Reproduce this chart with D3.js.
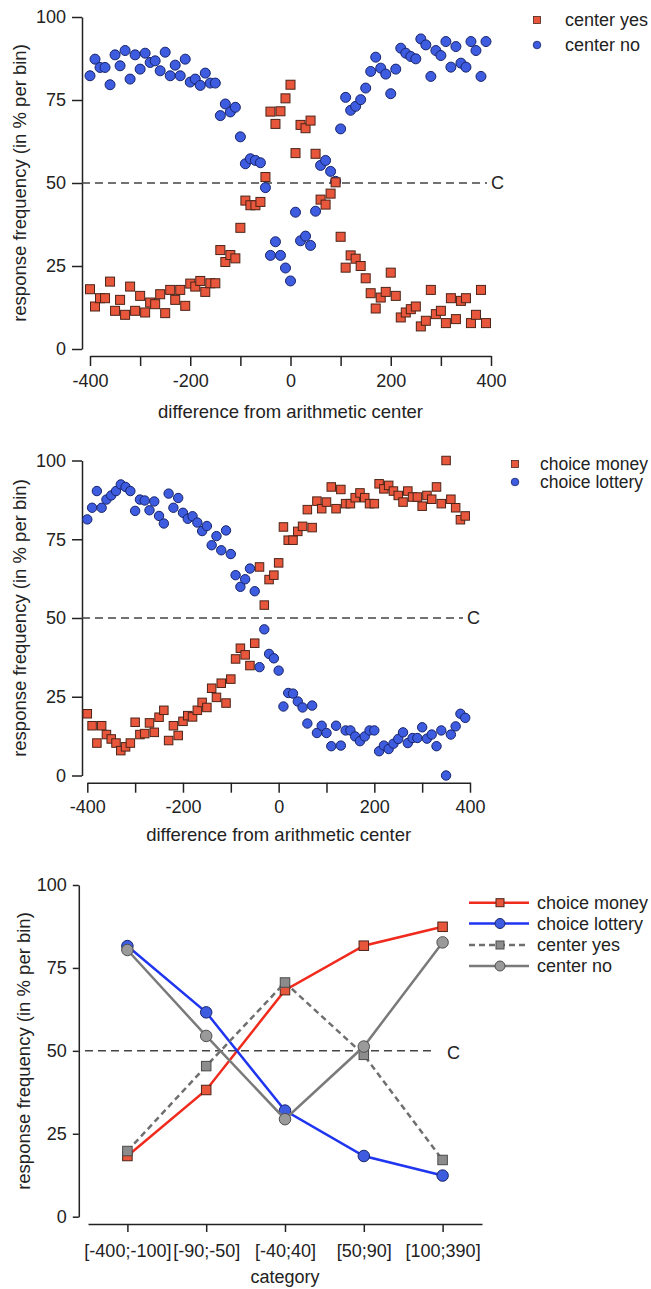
<!DOCTYPE html>
<html>
<head>
<meta charset="utf-8">
<script src="https://cdn.jsdelivr.net/npm/d3@7"></script>
<style>
  body { margin: 0; background: #fff; }
  svg text { font-family: "Liberation Sans", Arial, Helvetica, sans-serif; fill: #222; }
</style>
</head>
<body>
<script>
// bins of the difference from the arithmetic center (-400 .. 390, step 10)
const binX = d3.range(-400, 400, 10);

// top panel
const centerYes = [
  18.0, 12.8, 15.3, 15.3, 20.3, 11.5, 14.8, 10.3, 18.8, 11.5,
  16.0, 11.0, 14.0, 13.5, 16.5, 10.8, 17.8, 14.8, 17.8, 13.0,
  19.7, 18.8, 20.5, 17.2, 19.8, 19.8, 29.8, 26.2, 28.3, 27.3,
  36.5, 44.7, 43.3, 43.3, 44.3, 51.8, 71.5, 67.8, 71.6, 75.5,
  79.6, 59.0, 67.5, 66.5, 68.8, 58.8, 45.0, 43.5, 46.8, 50.2,
  33.8, 24.5, 28.2, 27.2, 25.0, 21.3, 16.8, 12.2, 15.5, 17.2,
  23.0, 16.0, 9.5, 11.0, 12.0, 12.8, 6.8, 8.5, 17.8, 10.5,
  11.5, 7.8, 15.3, 9.0, 14.5, 15.3, 7.8, 10.3, 17.8, 7.8
];
const centerNo = [
  82.3, 87.3, 84.8, 84.8, 79.6, 88.6, 85.3, 89.9, 81.3, 88.6,
  84.3, 89.1, 86.3, 86.8, 83.8, 89.4, 82.3, 85.5, 82.3, 87.3,
  80.4, 81.3, 79.4, 83.1, 80.1, 80.1, 70.3, 73.8, 71.4, 72.8,
  63.9, 55.8, 57.3, 56.8, 56.1, 48.6, 28.2, 32.3, 28.2, 24.4,
  20.5, 41.2, 32.6, 34.0, 31.2, 41.5, 55.3, 56.8, 53.5, 50.5,
  66.3, 75.8, 71.9, 73.1, 75.1, 78.6, 83.6, 87.9, 84.6, 82.8,
  76.9, 84.3, 90.6, 89.1, 88.1, 87.4, 93.4, 91.6, 82.1, 89.9,
  88.4, 92.6, 84.9, 91.1, 86.1, 84.9, 92.6, 89.9, 82.1, 92.6
];

// middle panel
const choiceMoney = [
  19.6, 15.8, 10.3, 15.8, 13.0, 11.6, 10.3, 7.9, 9.1, 10.3,
  16.9, 13.0, 13.3, 16.7, 13.7, 18.5, 20.7, 11.1, 15.8, 12.7,
  17.2, 19.0, 18.6, 20.7, 23.2, 21.6, 27.7, 24.8, 29.3, 23.0,
  30.6, 37.0, 40.4, 38.3, 34.9, 42.0, 66.2, 54.1, 62.2, 63.6,
  67.5, 78.9, 74.7, 74.7, 77.5, 79.1, 84.4, 78.7, 87.1, 84.7,
  86.8, 91.6, 84.7, 90.8, 86.3, 86.3, 88.2, 89.7, 88.2, 86.3,
  86.3, 92.6, 91.0, 92.1, 90.3, 88.9, 86.8, 90.3, 88.4, 88.4,
  85.5, 88.9, 87.7, 91.6, 86.3, 100, 87.7, 85.0, 81.2, 82.4
];
const choiceLottery = [
  81.3, 85.0, 90.3, 85.0, 87.6, 88.9, 90.3, 92.4, 91.6, 90.3,
  84.0, 87.6, 87.3, 84.2, 87.0, 82.4, 80.0, 89.5, 85.0, 88.1,
  83.4, 81.5, 82.3, 80.3, 77.6, 79.2, 73.1, 76.0, 71.5, 77.8,
  70.3, 63.6, 59.9, 62.3, 65.7, 58.5, 34.4, 46.4, 38.6, 37.2,
  33.3, 21.9, 26.2, 26.0, 23.5, 21.6, 16.5, 22.2, 13.5, 15.8,
  13.5, 9.3, 15.8, 9.5, 14.3, 14.3, 12.4, 10.9, 12.4, 14.3,
  14.3, 7.7, 9.5, 8.4, 10.1, 11.6, 13.7, 10.3, 11.9, 11.9,
  15.3, 11.7, 13.0, 9.3, 14.3, 0, 13.0, 15.6, 19.6, 18.3
];

// bottom panel
const categories = ["[-400;-100]", "[-90;-50]", "[-40;40]", "[50;90]", "[100;390]"];
const catChoiceMoney = [18.3, 38.2, 68.3, 81.7, 87.4];
const catChoiceLottery = [81.6, 61.6, 32.0, 18.3, 12.4];
const catCenterYes = [19.8, 45.4, 70.6, 48.8, 17.1];
const catCenterNo = [80.4, 54.5, 29.4, 51.3, 82.7];

const yTicks = [0, 25, 50, 75, 100];
const xTicks = [-400, -300, -200, -100, 0, 100, 200, 300, 400];

const ink = "#222";
const redFill = "#e8563c", redStroke = "#4b2418";
const blueFill = "#3d5ce0", blueStroke = "#18246a";

const svg = d3.select("body").append("svg")
  .attr("width", 651)
  .attr("height", 1289);

function styleAxis(a, size) {
  a.attr("font-size", size);
  a.select(".domain").attr("stroke", ink).attr("stroke-width", 1.5);
  a.selectAll(".tick line").attr("stroke", ink).attr("stroke-width", 1.5);
  a.selectAll(".tick text").attr("fill", ink);
}

function scatterPanel(p) {
  const x = d3.scaleLinear().domain([-400, 400]).range([p.x0, p.x1]);
  const y = d3.scaleLinear().domain([0, 100]).range([p.y0, p.y1]);
  const g = svg.append("g");

  const ya = g.append("g")
    .attr("transform", `translate(${p.yAxisX},0)`)
    .call(d3.axisLeft(y).tickValues(yTicks).tickSize(10).tickPadding(6).tickSizeOuter(0));
  styleAxis(ya, 18);

  const xa = g.append("g")
    .attr("transform", `translate(0,${p.xAxisY})`)
    .call(d3.axisBottom(x).tickValues(xTicks).tickSize(10).tickPadding(8).tickSizeOuter(0)
      .tickFormat(d => d % 200 === 0 ? d : ""));
  styleAxis(xa, 18);

  // titles
  g.append("text")
    .attr("transform", `translate(20,${(p.y0 + p.y1) / 2}) rotate(-90)`)
    .attr("text-anchor", "middle")
    .attr("dy", "0.35em")
    .attr("font-size", 18.5)
    .text("response frequency (in % per bin)");
  g.append("text")
    .attr("x", (p.x0 + p.x1) / 2)
    .attr("y", p.titleY)
    .attr("text-anchor", "middle")
    .attr("font-size", 18.5)
    .text("difference from arithmetic center");

  // chance level
  g.append("line")
    .attr("x1", p.yAxisX).attr("x2", p.dashEnd)
    .attr("y1", y(50)).attr("y2", y(50))
    .attr("stroke", "#444").attr("stroke-width", 1.5)
    .attr("stroke-dasharray", "8,5");
  g.append("text")
    .attr("x", p.dashEnd + 4).attr("y", y(50))
    .attr("dy", "0.36em")
    .attr("font-size", 18)
    .text("C");

  // circles under squares
  g.append("g").selectAll("circle")
    .data(p.circles)
    .join("circle")
    .attr("cx", (d, i) => x(binX[i]))
    .attr("cy", d => y(d))
    .attr("r", p.r)
    .attr("fill", blueFill)
    .attr("stroke", blueStroke)
    .attr("stroke-width", 1);

  g.append("g").selectAll("rect")
    .data(p.squares)
    .join("rect")
    .attr("x", (d, i) => x(binX[i]) - p.s / 2)
    .attr("y", d => y(d) - p.s / 2)
    .attr("width", p.s)
    .attr("height", p.s)
    .attr("fill", redFill)
    .attr("stroke", redStroke)
    .attr("stroke-width", 1);

  // legend
  const lg = g.append("g");
  lg.append("rect")
    .attr("x", p.legX - 3.5).attr("y", p.legY[0] - 3.5)
    .attr("width", 7).attr("height", 7)
    .attr("fill", redFill).attr("stroke", redStroke).attr("stroke-width", 0.8);
  lg.append("circle")
    .attr("cx", p.legX).attr("cy", p.legY[1]).attr("r", 3.8)
    .attr("fill", blueFill).attr("stroke", blueStroke).attr("stroke-width", 0.8);
  p.legNames.forEach((name, i) => {
    lg.append("text")
      .attr("x", p.legTextX).attr("y", p.legY[i])
      .attr("dy", "0.35em")
      .attr("font-size", p.legSize)
      .text(name);
  });
}

scatterPanel({
  x0: 90, x1: 491, y0: 349, y1: 17,
  yAxisX: 82, xAxisY: 356, titleY: 418,
  dashEnd: 487,
  circles: centerNo, squares: centerYes,
  r: 5, s: 9,
  legX: 537, legY: [20, 45], legTextX: 565, legSize: 18,
  legNames: ["center yes", "center no"]
});

scatterPanel({
  x0: 87.3, x1: 470, y0: 775.5, y1: 460.5,
  yAxisX: 82, xAxisY: 782.7, titleY: 841,
  dashEnd: 463,
  circles: choiceLottery, squares: choiceMoney,
  r: 4.7, s: 8.5,
  legX: 515, legY: [464, 482], legTextX: 540, legSize: 17.5,
  legNames: ["choice money", "choice lottery"]
});

// ---- bottom panel: category means ----
const xc = d3.scalePoint().domain(categories).range([88, 482]).padding(0.5);
const yc = d3.scaleLinear().domain([0, 100]).range([1216.7, 885]);
const gb = svg.append("g");

const yca = gb.append("g")
  .attr("transform", "translate(78.8,0)")
  .call(d3.axisLeft(yc).tickValues(yTicks).tickSize(6).tickPadding(6).tickSizeOuter(0));
styleAxis(yca, 18);

const xca = gb.append("g")
  .attr("transform", "translate(0,1224)")
  .call(d3.axisBottom(xc).tickSize(8).tickPadding(12).tickSizeOuter(0));
styleAxis(xca, 18);

gb.append("text")
  .attr("transform", "translate(24,1051) rotate(-90)")
  .attr("text-anchor", "middle")
  .attr("dy", "0.35em")
  .attr("font-size", 18.5)
  .text("response frequency (in % per bin)");
gb.append("text")
  .attr("x", xc(categories[2]))
  .attr("y", 1283)
  .attr("text-anchor", "middle")
  .attr("font-size", 18)
  .text("category");

gb.append("line")
  .attr("x1", 85).attr("x2", 433.6)
  .attr("y1", yc(50)).attr("y2", yc(50))
  .attr("stroke", "#444").attr("stroke-width", 1.5)
  .attr("stroke-dasharray", "8,5");
gb.append("text")
  .attr("x", 447).attr("y", yc(50) + 2)
  .attr("dy", "0.36em")
  .attr("font-size", 18)
  .text("C");

const lineSeries = [
  {name: "choice money", values: catChoiceMoney, color: "#f02a1c", dash: null, shape: "square", fill: redFill, stroke: redStroke},
  {name: "choice lottery", values: catChoiceLottery, color: "#1f35f0", dash: null, shape: "circle", fill: blueFill, stroke: blueStroke},
  {name: "center yes", values: catCenterYes, color: "#6f6f6f", dash: "6,4", shape: "square", fill: "#8c8c8c", stroke: "#4a4a4a"},
  {name: "center no", values: catCenterNo, color: "#7a7a7a", dash: null, shape: "circle", fill: "#9a9a9a", stroke: "#4f4f4f"}
];

const line = d3.line()
  .x((d, i) => xc(categories[i]))
  .y(d => yc(d));

function marker(sel, shape, cx, cy, size, fill, stroke) {
  if (shape === "square") {
    sel.append("rect")
      .attr("x", cx - size / 2).attr("y", cy - size / 2)
      .attr("width", size).attr("height", size)
      .attr("fill", fill).attr("stroke", stroke).attr("stroke-width", 1);
  } else {
    sel.append("circle")
      .attr("cx", cx).attr("cy", cy).attr("r", size / 2 + 1)
      .attr("fill", fill).attr("stroke", stroke).attr("stroke-width", 1);
  }
}

lineSeries.forEach(s => {
  gb.append("path")
    .datum(s.values)
    .attr("fill", "none")
    .attr("stroke", s.color)
    .attr("stroke-width", 2.5)
    .attr("stroke-dasharray", s.dash)
    .attr("d", line);
  const mg = gb.append("g");
  s.values.forEach((v, i) => marker(mg, s.shape, xc(categories[i]), yc(v), 9.5, s.fill, s.stroke));
});

// legend
const legRows = [902.7, 923.5, 945, 966];
lineSeries.forEach((s, i) => {
  const lg = gb.append("g");
  lg.append("line")
    .attr("x1", 469).attr("x2", 529)
    .attr("y1", legRows[i]).attr("y2", legRows[i])
    .attr("stroke", s.color).attr("stroke-width", 2.5)
    .attr("stroke-dasharray", s.dash);
  marker(lg, s.shape, 500, legRows[i], 8, s.fill, s.stroke);
  lg.append("text")
    .attr("x", 537).attr("y", legRows[i])
    .attr("dy", "0.35em")
    .attr("font-size", 18)
    .text(s.name);
});
</script>
</body>
</html>
